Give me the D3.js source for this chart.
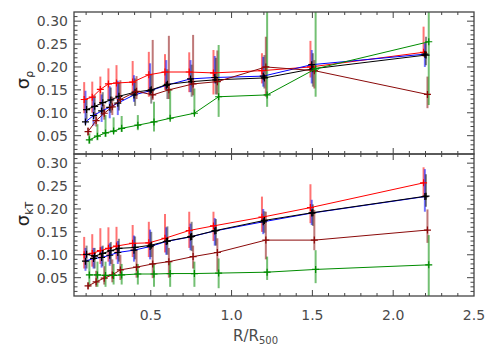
<!DOCTYPE html>
<html>
<head>
<meta charset="utf-8">
<script src="https://cdn.jsdelivr.net/npm/d3@7"></script>
<style>
  body { margin: 0; background: #fff; }
  text { font-family: "DejaVu Sans", sans-serif; fill: #4a4a4a; }
</style>
</head>
<body>
<div id="chart"></div>
<script>
// bin radii (R/R500) and the small shift of each sample's mean radius
var radii = [0.1, 0.15, 0.2, 0.25, 0.3, 0.4, 0.5, 0.6, 0.75, 0.9, 1.2, 1.5, 2.2];
var seriesKeys = ['red', 'blue', 'black', 'darkred', 'green'];
var radiusShift = [-0.012, -0.004, 0.003, 0.012, 0.02];

// sigma_rho (top panel)
var rhoRed      = [0.129, 0.134, 0.151, 0.163, 0.165, 0.167, 0.183, 0.189, 0.189, 0.187, 0.192, 0.200, 0.232];
var rhoRedLo    = [0.099, 0.100, 0.117, 0.130, 0.130, 0.139, 0.135, 0.150, 0.145, 0.140, 0.164, 0.177, 0.222];
var rhoRedHi    = [0.167, 0.168, 0.179, 0.197, 0.204, 0.213, 0.233, 0.228, 0.232, 0.237, 0.230, 0.257, 0.288];
var rhoBlue     = [0.080, 0.094, 0.104, 0.112, 0.121, 0.139, 0.148, 0.160, 0.174, 0.177, 0.180, 0.205, 0.228];
var rhoBlueLo   = [0.075, 0.072, 0.080, 0.088, 0.095, 0.124, 0.139, 0.150, 0.145, 0.164, 0.157, 0.164, 0.200];
var rhoBlueHi   = [0.148, 0.135, 0.140, 0.158, 0.170, 0.182, 0.208, 0.215, 0.215, 0.224, 0.222, 0.237, 0.252];
var rhoBlack    = [0.107, 0.114, 0.122, 0.128, 0.136, 0.145, 0.150, 0.162, 0.168, 0.172, 0.176, 0.196, 0.226];
var rhoBlackLo  = [0.085, 0.090, 0.095, 0.100, 0.105, 0.115, 0.120, 0.130, 0.135, 0.140, 0.153, 0.157, 0.204];
var rhoBlackHi  = [0.130, 0.138, 0.145, 0.155, 0.165, 0.175, 0.185, 0.195, 0.205, 0.220, 0.226, 0.230, 0.266];
var rhoDark     = [0.059, 0.083, 0.099, 0.113, 0.129, 0.147, 0.139, 0.150, 0.163, 0.168, 0.200, 0.192, 0.140];
var rhoDarkLo   = [0.050, 0.070, 0.085, 0.095, 0.124, 0.130, 0.128, 0.130, 0.138, 0.140, 0.135, 0.153, 0.110];
var rhoDarkHi   = [0.068, 0.100, 0.118, 0.135, 0.171, 0.180, 0.259, 0.268, 0.270, 0.236, 0.266, 0.215, 0.179];
var rhoGreen    = [0.041, 0.049, 0.056, 0.060, 0.066, 0.073, 0.080, 0.088, 0.099, 0.135, 0.139, 0.196, 0.255];
var rhoGreenLo  = [0.032, 0.040, 0.047, 0.055, 0.058, 0.062, 0.059, 0.084, 0.095, 0.091, 0.113, 0.135, 0.117];
var rhoGreenHi  = [0.055, 0.075, 0.095, 0.090, 0.093, 0.095, 0.124, 0.153, 0.153, 0.248, 0.400, 0.400, 0.400];

// sigma_kT (bottom panel)
var ktRed      = [0.100, 0.103, 0.109, 0.114, 0.119, 0.125, 0.126, 0.136, 0.153, 0.163, 0.182, 0.203, 0.257];
var ktRedLo    = [0.070, 0.074, 0.080, 0.085, 0.090, 0.095, 0.095, 0.105, 0.115, 0.130, 0.150, 0.169, 0.227];
var ktRedHi    = [0.139, 0.145, 0.158, 0.160, 0.161, 0.165, 0.172, 0.189, 0.194, 0.194, 0.227, 0.254, 0.291];
var ktBlue     = [0.086, 0.092, 0.094, 0.099, 0.105, 0.110, 0.118, 0.129, 0.139, 0.152, 0.172, 0.191, 0.227];
var ktBlueLo   = [0.065, 0.070, 0.072, 0.076, 0.080, 0.085, 0.090, 0.100, 0.110, 0.120, 0.145, 0.165, 0.194];
var ktBlueHi   = [0.115, 0.115, 0.118, 0.125, 0.130, 0.142, 0.155, 0.160, 0.168, 0.180, 0.200, 0.220, 0.287];
var ktBlack    = [0.101, 0.097, 0.103, 0.109, 0.114, 0.116, 0.121, 0.130, 0.140, 0.153, 0.175, 0.192, 0.228];
var ktBlackLo  = [0.070, 0.070, 0.075, 0.080, 0.085, 0.090, 0.095, 0.100, 0.108, 0.120, 0.148, 0.163, 0.205];
var ktBlackHi  = [0.120, 0.115, 0.120, 0.128, 0.135, 0.140, 0.150, 0.162, 0.172, 0.178, 0.195, 0.210, 0.276];
var ktDark     = [0.032, 0.041, 0.049, 0.056, 0.067, 0.073, 0.080, 0.085, 0.096, 0.105, 0.132, 0.132, 0.154];
var ktDarkLo   = [0.025, 0.030, 0.035, 0.040, 0.045, 0.050, 0.049, 0.050, 0.070, 0.063, 0.090, 0.110, 0.126];
var ktDarkHi   = [0.040, 0.065, 0.075, 0.090, 0.100, 0.110, 0.119, 0.115, 0.120, 0.136, 0.194, 0.198, 0.199];
var ktGreen    = [0.056, 0.056, 0.055, 0.055, 0.056, 0.058, 0.058, 0.059, 0.059, 0.060, 0.062, 0.068, 0.078];
var ktGreenLo  = [0.030, 0.030, 0.030, 0.035, 0.035, 0.035, 0.030, 0.030, 0.030, 0.027, 0.045, 0.038, -0.010];
var ktGreenHi  = [0.089, 0.085, 0.085, 0.080, 0.080, 0.080, 0.080, 0.085, 0.085, 0.092, 0.096, 0.110, 0.143];

var yTicks = [0.05, 0.10, 0.15, 0.20, 0.25, 0.30];
var xTicks = [0.5, 1.0, 1.5, 2.0, 2.5];

var colors = {red: '#ff0000', blue: '#0000ff', black: '#000000', darkred: '#8b0a0a', green: '#008c00'};
var markColors = {red: '#ff0000', blue: '#000000', black: '#000000', darkred: '#8b0a0a', green: '#008c00'};

var panels = [
  {id: 'rho', top: 12, bottom: 154, label: 'ρ', series: {
    red: [rhoRed, rhoRedLo, rhoRedHi], blue: [rhoBlue, rhoBlueLo, rhoBlueHi],
    black: [rhoBlack, rhoBlackLo, rhoBlackHi], darkred: [rhoDark, rhoDarkLo, rhoDarkHi],
    green: [rhoGreen, rhoGreenLo, rhoGreenHi]}},
  {id: 'kt', top: 154, bottom: 296, label: 'kT', series: {
    red: [ktRed, ktRedLo, ktRedHi], blue: [ktBlue, ktBlueLo, ktBlueHi],
    black: [ktBlack, ktBlackLo, ktBlackHi], darkred: [ktDark, ktDarkLo, ktDarkHi],
    green: [ktGreen, ktGreenLo, ktGreenHi]}}
];

var width = 499, height = 351, left = 74, right = 474;

var svg = d3.select('#chart').append('svg')
    .attr('width', width).attr('height', height);

var x = d3.scaleLinear().domain([0.025, 2.5]).range([left, right]);

panels.forEach(function(p, pi) {
  var y = d3.scaleLinear().domain([0.01, 0.32]).range([p.bottom, p.top]);
  var g = svg.append('g');

  svg.append('clipPath').attr('id', 'clip-' + p.id)
    .append('rect').attr('x', left).attr('y', p.top)
    .attr('width', right - left).attr('height', p.bottom - p.top);

  var plot = g.append('g').attr('clip-path', 'url(#clip-' + p.id + ')');

  // error bars
  seriesKeys.forEach(function(k, si) {
    var s = p.series[k];
    var pts = radii.map(function(r, i) {
      return {r: r + radiusShift[si], v: s[0][i], lo: s[1][i], hi: s[2][i]};
    });
    plot.append('g').selectAll('line').data(pts).enter().append('line')
      .attr('x1', function(d) { return x(d.r); })
      .attr('x2', function(d) { return x(d.r); })
      .attr('y1', function(d) { return y(d.lo); })
      .attr('y2', function(d) { return y(d.hi); })
      .style('stroke', colors[k])
      .style('stroke-opacity', k === 'black' ? 0.45 : 0.55)
      .style('stroke-width', 2);
  });

  // profiles and markers
  seriesKeys.forEach(function(k, si) {
    var s = p.series[k];
    var pts = radii.map(function(r, i) {
      return {r: r + radiusShift[si], v: s[0][i]};
    });
    var line = d3.line().x(function(d) { return x(d.r); }).y(function(d) { return y(d.v); });
    plot.append('path').attr('d', line(pts))
      .style('fill', 'none').style('stroke', colors[k]).style('stroke-width', 1);
    plot.append('g').selectAll('path').data(pts).enter().append('path')
      .attr('d', function(d) {
        var cx = x(d.r), cy = y(d.v);
        return 'M ' + (cx - 3.5) + ' ' + cy + ' H ' + (cx + 3.5) + ' M ' + cx + ' ' + (cy - 3.5) + ' V ' + (cy + 3.5);
      })
      .style('stroke', markColors[k]).style('stroke-width', 1.2).style('fill', 'none');
  });

  // frame
  g.append('rect').attr('x', left).attr('y', p.top)
    .attr('width', right - left).attr('height', p.bottom - p.top)
    .style('fill', 'none').style('stroke', '#444').style('stroke-width', 1.3);

  // y ticks, inside on both sides
  var yMinor = d3.range(1, 33).map(function(i) { return i / 100; });
  yMinor.forEach(function(v) {
    var major = Math.round(v * 100) % 5 === 0;
    var len = major ? 7 : 3.5;
    var py = y(v);
    if (py <= p.top + 0.5 || py >= p.bottom - 0.5) return;
    g.append('path').attr('d', 'M ' + left + ' ' + py + ' h ' + len + ' M ' + right + ' ' + py + ' h ' + (-len))
      .style('stroke', '#444').style('stroke-width', 1);
  });
  yTicks.forEach(function(v) {
    g.append('text').attr('x', left - 6).attr('y', y(v) + 5)
      .attr('text-anchor', 'end').style('font-size', '14px').text(v.toFixed(2));
  });

  // x ticks on top and bottom edges
  var xMinor = d3.range(1, 25).map(function(i) { return i / 10; });
  xMinor.forEach(function(v) {
    var major = Math.round(v * 10) % 5 === 0;
    var len = major ? 6 : 3;
    var px = x(v);
    g.append('path').attr('d', 'M ' + px + ' ' + p.bottom + ' v ' + (-len) + ' M ' + px + ' ' + p.top + ' v ' + len)
      .style('stroke', '#444').style('stroke-width', 1);
  });
  if (pi === panels.length - 1) {
    xTicks.forEach(function(v) {
      g.append('text').attr('x', x(v)).attr('y', p.bottom + 24)
        .attr('text-anchor', 'middle').style('font-size', '14px').text(v.toFixed(1));
    });
  }

  // y title
  var cy = pi === 0 ? 80 : 214;
  var t = g.append('text').attr('transform', 'translate(29,' + cy + ') rotate(-90)')
    .attr('text-anchor', 'middle').style('font-size', '18px').style('fill', '#222');
  t.append('tspan').text('σ');
  t.append('tspan').attr('dy', 4).style('font-size', '11px').text(p.label);
});

var xt = svg.append('text').attr('x', 233).attr('y', 341).style('font-size', '15px');
xt.append('tspan').text('R/R');
xt.append('tspan').attr('dy', 3).style('font-size', '10px').text('500');
</script>
</body>
</html>
